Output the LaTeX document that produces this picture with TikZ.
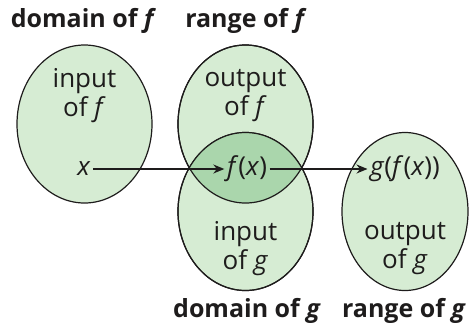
\documentclass[tikz,border=0pt]{standalone}
\usepackage{fontspec}
\setmainfont{Open Sans}
\usetikzlibrary{shapes.geometric,arrows.meta}

\definecolor{setgreen}{RGB}{214,236,211}
\definecolor{lensgreen}{RGB}{170,214,172}
\definecolor{inkgray}{RGB}{30,28,28}

\begin{document}
\begin{tikzpicture}[x=1pt, y=-1pt,
    set/.style={ellipse, draw=inkgray, line width=1.2pt, fill=setgreen,
        minimum width=135pt, minimum height=158pt, inner sep=0pt},
    lbl/.style={font=\fontsize{26}{29}\selectfont, text=inkgray, align=center},
    head/.style={font=\fontsize{25}{30}\selectfont\bfseries, text=inkgray, anchor=base},
    val/.style={font=\fontsize{26}{29}\selectfont, text=inkgray, inner sep=2.5pt},
    map/.style={-{Stealth[length=11pt, width=9pt]}, line width=1.2pt, draw=inkgray}]
    \useasboundingbox (0,0) rectangle (472,330);

    % ===== the four sets =====
    \node[set] (domf) at (84.5, 124) {};
    \node[set] (ranf) at (245.5, 124) {};
    \node[set] (domg) at (245.5, 211.5) {};
    \node[set, minimum width=126pt] (rang) at (405, 211.5) {};

    % overlap of range of f and domain of g
    \begin{scope}
        \clip (245.5, 124) ellipse [x radius=67.5pt, y radius=79pt];
        \fill[lensgreen] (245.5, 211.5) ellipse [x radius=67.5pt, y radius=79pt];
    \end{scope}
    \draw[inkgray, line width=1.2pt] (245.5, 124) ellipse [x radius=67.5pt, y radius=79pt];
    \draw[inkgray, line width=1.2pt] (245.5, 211.5) ellipse [x radius=67.5pt, y radius=79pt];

    % ===== headings =====
    \node[head] (hdomf) at (83.5, 27) {domain of \textit{f}};
    \node[head] (hranf) at (246, 27) {range of \textit{f}};
    \node[head] (hdomg) at (247, 317) {domain of \textit{g}};
    \node[head] (hrang) at (404, 317) {range of \textit{g}};

    % ===== labels inside the sets =====
    \node[lbl] (inf) at (84.5, 96) {input\\of \textit{f}};
    \node[lbl] (outf) at (245.5, 96) {output\\of \textit{f}};
    \node[lbl] (ing) at (245.5, 249) {input\\of \textit{g}};
    \node[lbl] (outg) at (405, 249) {output\\of \textit{g}};

    % ===== the composition =====
    \node[val] (x) at (84, 169) {\textit{x}};
    \node[val] (fx) at (247, 169) {\textit{f}(\textit{x})};
    \node[val] (gfx) at (405, 169) {\textit{g}(\textit{f}(\textit{x}))};
    \draw[map] (x) -- (fx);
    \draw[map] (fx) -- (gfx);
\end{tikzpicture}
\end{document}
